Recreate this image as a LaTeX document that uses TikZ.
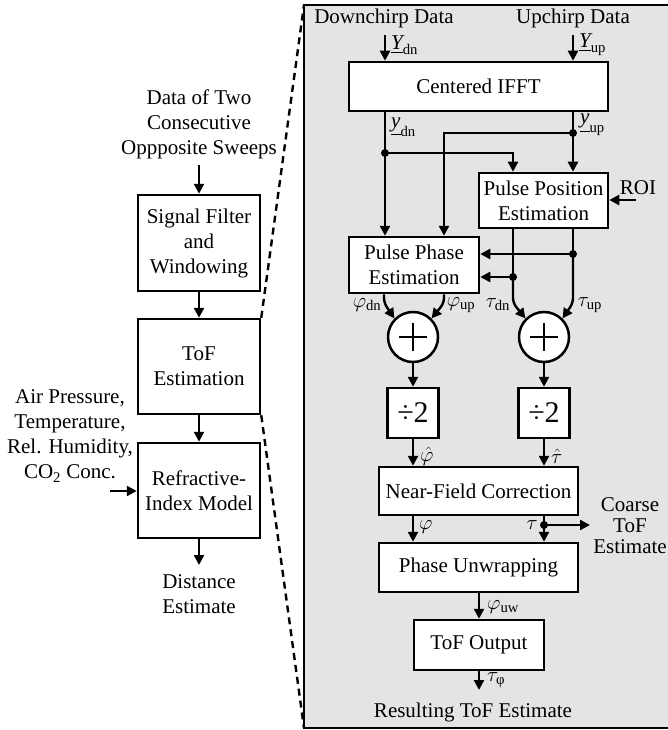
\documentclass[tikz,border=0pt]{standalone}
\usepackage{fontspec}
\setmainfont{Liberation Serif}
\usepackage{amsmath}
\usetikzlibrary{arrows.meta}
\definecolor{panelgray}{RGB}{228,228,228}
\begin{document}
\begin{tikzpicture}[x=1pt,y=-1pt,
  every node/.style={font=\fontsize{21}{25}\selectfont, inner sep=0pt, align=center},
  blk/.style={draw, fill=white, line width=2.5pt},
  sumc/.style={draw, fill=white, circle, minimum size=50pt, line width=2.5pt},
  conn/.style={line width=2.4pt},
  arr/.style={conn, -{Triangle[length=10pt,width=10pt]}},
  jdot/.style={circle, fill=black, minimum size=8pt, inner sep=0pt},
  dashline/.style={line width=2.4pt, dash pattern=on 7pt off 5pt},
  divtxt/.style={font=\fontsize{30}{30}\selectfont}
]
\useasboundingbox (0,0) rectangle (668,730);

% ---------- panel ----------
\coordinate (ptl) at (304,5);
\coordinate (pbl) at (304,728);
\draw[line width=2.5pt, fill=panelgray] (ptl) rectangle (690,728);

% ---------- left column ----------
\node (din) at (199,124) {Data of Two\\Consecutive\\Oppposite Sweeps};
\node[blk, minimum width=122pt, minimum height=96pt] (sig) at (199,243) {Signal Filter\\and\\Windowing};
\node[blk, minimum width=122pt, minimum height=95pt] (tof) at (199,366.5) {ToF\\Estimation};
\node[blk, minimum width=122pt, minimum height=95pt] (ref) at (199,490.5) {Refractive-\\Index Model};
\node (env) at (70,436) {Air Pressure,\\Temperature,\\Rel. Humidity,\\CO\textsubscript{2} Conc.};
\node (dist) at (199,594) {Distance\\Estimate};
\coordinate (dinA) at (199,165);
\coordinate (envA) at (110,491);
\coordinate (distA) at (199,565);
\draw[arr] (dinA) -- (sig.north);
\draw[arr] (sig.south) -- (tof.north);
\draw[arr] (tof.south) -- (ref.north);
\draw[arr] (envA) -- (envA -| ref.west);
\draw[arr] (ref.south) -- (distA);

\draw[dashline] (tof.north east) -- (ptl);
\draw[dashline] (tof.south east) -- (pbl);

% ---------- right panel ----------
\coordinate (cL) at (513,0);
\coordinate (cR) at (573,0);
\coordinate (cY) at (444,0);
\coordinate (cP) at (384,0);
\coordinate (bend) at (0,303);

\node (dcd) at (384,18) {Downchirp Data};
\node (ucd) at (573,18) {Upchirp Data};
\node[blk, minimum width=259pt, minimum height=49pt] (ifft) at (478.5,86.5) {Centered IFFT};
\node[blk, minimum width=129pt, minimum height=55pt] (ppos) at (543.5,200.5) {Pulse Position\\Estimation};
\node[blk, minimum width=130pt, minimum height=56pt] (ppha) at (414,265) {Pulse Phase\\Estimation};
\node[sumc] (sum1) at (413,337) {};
\node[sumc] (sum2) at (544,337) {};
\node[blk, divtxt, minimum width=51pt, minimum height=50pt] (div1) at (413,413) {÷2};
\node[blk, divtxt, minimum width=51pt, minimum height=50pt] (div2) at (544,413) {÷2};
\node[blk, minimum width=199pt, minimum height=48pt] (nf) at (478.5,491) {Near-Field Correction};
\node[blk, minimum width=199pt, minimum height=49pt] (pu) at (478.5,567.5) {Phase Unwrapping};
\node[blk, minimum width=130pt, minimum height=50pt] (tofo) at (479,645) {ToF Output};
\node (coarse) at (630,526) {Coarse\\[-4pt]ToF\\[-4pt]Estimate};
\node (res) at (473,712) {Resulting ToF Estimate};
\node (roi) at (638,188) {ROI};

% plus signs
\foreach \s in {sum1,sum2}{
  \draw[line width=2.2pt] ([xshift=-14pt]\s.center) -- ([xshift=14pt]\s.center);
  \draw[line width=2.2pt] ([yshift=-14pt]\s.center) -- ([yshift=14pt]\s.center);
}

% inputs
\coordinate (ydnA) at (385,35);
\coordinate (yupA) at (573,35);
\draw[arr] (ydnA) -- (ydnA |- ifft.north);
\draw[arr] (yupA) -- (yupA |- ifft.north);
\node[anchor=west] at (391,45) {$\underline{\mathit{Y}}_{\mathrm{dn}}$};
\node[anchor=west] at (579,45) {$\underline{\mathit{Y}}_{\mathrm{up}}$};

% IFFT outputs
\coordinate (jdn) at (385,153);
\coordinate (jup) at (573,133);
\node[anchor=west] at (391,127) {$\underline{\mathit{y}}_{\mathrm{dn}}$};
\node[anchor=west] at (580,125) {$\underline{\mathit{y}}_{\mathrm{up}}$};
\draw[conn] (ifft.south -| jdn) -- (jdn);
\draw[arr] (jdn) -- (jdn |- ppha.north);
\draw[arr] (jdn) -| (cL |- ppos.north);
\draw[arr] (ifft.south -| cR) -- (cR |- ppos.north);
\draw[arr] (jup) -| (cY |- ppha.north);
\node[jdot] at (jdn) {};
\node[jdot] at (jup) {};

% ROI
\coordinate (roiA) at (636,200);
\draw[arr] (roiA) -- (roiA -| ppos.east);

% pulse position outputs
\coordinate (tup) at (573,254);
\coordinate (tdn) at (513,277);
\draw[conn] (ppos.south -| cR) -- (tup);
\draw[conn] (ppos.south -| cL) -- (tdn);
\draw[arr] (tup) -- (tup -| ppha.east);
\draw[arr] (tdn) -- (tdn -| ppha.east);
\draw[arr, rounded corners=5pt] (tdn) -- (cL |- bend) -- (sum2.135);
\draw[arr, rounded corners=5pt] (tup) -- (cR |- bend) -- (sum2.45);
\node[jdot] at (tup) {};
\node[jdot] at (tdn) {};

% pulse phase outputs
\draw[arr, rounded corners=5pt] (ppha.south -| cP) -- (cP |- bend) -- (sum1.135);
\draw[arr, rounded corners=5pt] (ppha.south -| cY) -- (cY |- bend) -- (sum1.45);

\node at (367,305) {$\varphi_{\mathrm{dn}}$};
\node at (461,305) {$\varphi_{\mathrm{up}}$};
\node at (498,305) {$\tau_{\mathrm{dn}}$};
\node at (590,305) {$\tau_{\mathrm{up}}$};

% sums to dividers
\draw[arr] (sum1.south) -- (div1.north);
\draw[arr] (sum2.south) -- (div2.north);
\draw[arr] (div1.south) -- (div1.south |- nf.north);
\draw[arr] (div2.south) -- (div2.south |- nf.north);
\node[anchor=west] at (420,456) {$\hat{\varphi}$};
\node[anchor=west] at (551,456) {$\hat{\tau}$};

% near-field outputs
\coordinate (tc) at (544,525);
\coordinate (coarseA) at (590,525);
\draw[arr] (nf.south -| div1) -- (pu.north -| div1);
\node[anchor=west] at (419,527) {$\varphi$};
\draw[conn] (nf.south -| tc) -- (tc);
\draw[arr] (tc) -- (pu.north -| tc);
\draw[arr] (tc) -- (coarseA);
\node[jdot] at (tc) {};
\node[anchor=east] at (538,525) {$\tau$};

% final
\coordinate (resA) at (479,690);
\draw[arr] (pu.south -| tofo) -- (tofo.north);
\node[anchor=west] at (487,607) {$\varphi_{\mathrm{uw}}$};
\draw[arr] (tofo.south) -- (resA);
\node[anchor=west] at (487,680) {$\tau_{\text{φ}}$};

\end{tikzpicture}
\end{document}
